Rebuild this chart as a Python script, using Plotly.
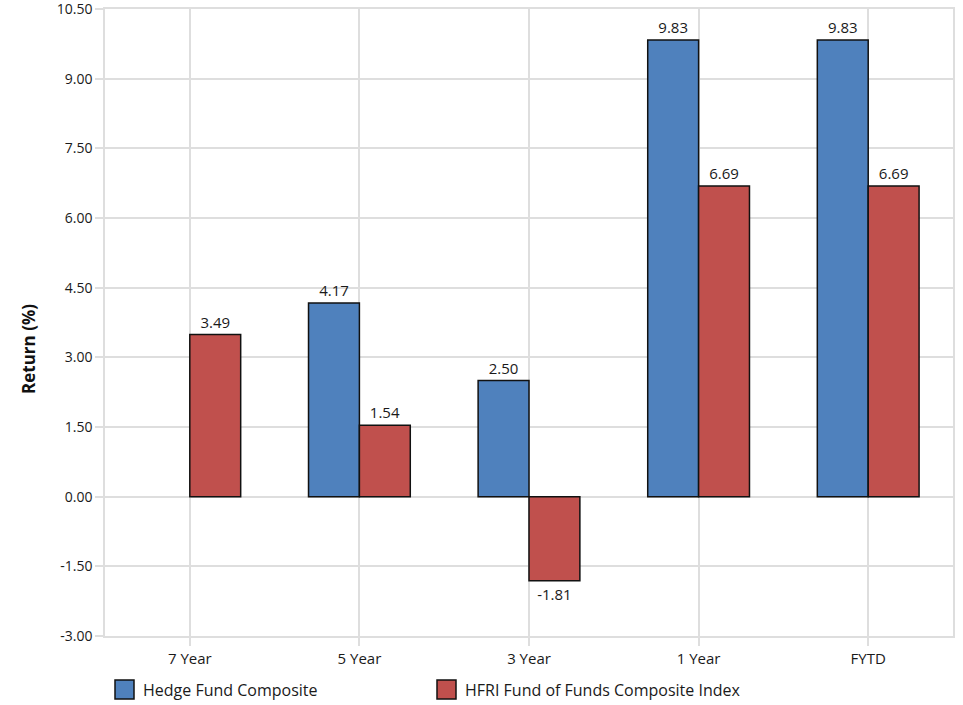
import plotly.graph_objects as go

# Trailing-period returns (%)
periods = ["7 Year", "5 Year", "3 Year", "1 Year", "FYTD"]
hedge_fund_composite = [None, 4.17, 2.50, 9.83, 9.83]
hfri_fof_index = [3.49, 1.54, -1.81, 6.69, 6.69]

series_names = ["Hedge Fund Composite", "HFRI Fund of Funds Composite Index"]
series_colors = ["#4F81BD", "#C0504D"]

y_ticks = [-3.0, -1.5, 0.0, 1.5, 3.0, 4.5, 6.0, 7.5, 9.0, 10.5]

FONT = "'Open Sans', Lato, sans-serif"
GRID = "#dedede"
TEXT = "#1a1a1a"

# plot area in pixels (used to place the legend row and axis title)
L, R, T, B = 105, 10, 9, 69
W, H = 963, 705
PW, PH = W - L - R, H - T - B


def px_x(x):
    return (x - L) / PW


def px_y(y):
    return (H - B - y) / PH


fig = go.Figure()
for name, vals, color in zip(series_names, [hedge_fund_composite, hfri_fof_index], series_colors):
    fig.add_trace(go.Bar(
        x=periods,
        y=vals,
        name=name,
        marker=dict(color=color, line=dict(color="#111111", width=1.5)),
        texttemplate="%{y:.2f}",
        textposition="outside",
        textfont=dict(family=FONT, size=15, color=TEXT),
        cliponaxis=False,
        showlegend=False,
    ))

axis_common = dict(
    showgrid=True,
    gridcolor=GRID,
    gridwidth=1.5,
    showline=True,
    linecolor=GRID,
    linewidth=1.5,
    mirror=True,
    ticks="outside",
    ticklen=8,
    tickcolor=GRID,
    tickwidth=1.5,
    ticklabeloverflow="allow",
    zeroline=False,
    automargin=False,
)

fig.update_layout(
    width=W,
    height=H,
    margin=dict(l=L, r=R, t=T, b=B),
    paper_bgcolor="white",
    plot_bgcolor="white",
    barmode="group",
    bargap=0.40,
    bargroupgap=0,
    font=dict(family=FONT, size=14, color=TEXT),
    xaxis=dict(type="category", tickfont=dict(family=FONT, size=15, color=TEXT), **axis_common),
    yaxis=dict(
        range=[-3.0, 10.5],
        tickvals=y_ticks,
        ticktext=[f"{v:.2f}" for v in y_ticks],
        tickfont=dict(family=FONT, size=14, color=TEXT),
        **axis_common,
    ),
)

# Value axis title
fig.add_annotation(
    xref="paper", yref="paper", x=px_x(28), y=px_y(349),
    xanchor="center", yanchor="middle", textangle=-90,
    text="<b>Return (%)</b>", showarrow=False,
    font=dict(family=FONT, size=17, color="#111111"),
)

# Legend row beneath the category labels
legend_x = [115, 437]
for name, color, x0 in zip(series_names, series_colors, legend_x):
    fig.add_shape(
        type="rect", xref="paper", yref="paper",
        x0=px_x(x0), x1=px_x(x0 + 19),
        y0=px_y(699), y1=px_y(680),
        fillcolor=color, line=dict(color="#111111", width=1.5),
    )
    fig.add_annotation(
        xref="paper", yref="paper",
        x=px_x(x0 + 26), y=px_y(690),
        xanchor="left", yanchor="middle",
        text=name, showarrow=False,
        font=dict(family=FONT, size=16, color=TEXT),
    )

fig.write_html("out.html")
